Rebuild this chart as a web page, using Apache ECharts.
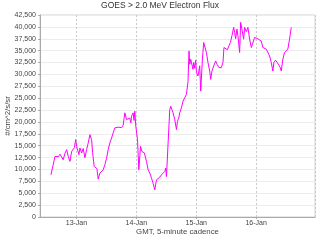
<!DOCTYPE html>
<html><head><meta charset="utf-8">
<script src="https://cdn.jsdelivr.net/npm/echarts@6/dist/echarts.min.js"></script>
<style>html,body{margin:0;padding:0;background:#fff}#c{width:320px;height:240px}</style>
</head><body><div id="c"></div>
<script>
var title = 'GOES > 2.0 MeV Electron Flux';
var yName = '#/cm^2/s/sr';
var xName = 'GMT, 5-minute cadence';
var axisStart = '2013-01-12 09:24';
var axisEnd = '2013-01-16 23:36';
var monthNames = ['Jan','Feb','Mar','Apr','May','Jun','Jul','Aug','Sep','Oct','Nov','Dec'];
var times = [
'2013-01-12 13:48','2013-01-12 14:36','2013-01-12 15:24','2013-01-12 16:05','2013-01-12 16:48','2013-01-12 17:24','2013-01-12 18:05','2013-01-12 18:43','2013-01-12 19:24','2013-01-12 20:05',
'2013-01-12 20:43','2013-01-12 21:24','2013-01-12 22:05','2013-01-12 22:43','2013-01-12 23:12','2013-01-12 23:41','2013-01-13 00:05','2013-01-13 00:36','2013-01-13 01:00','2013-01-13 01:24',
'2013-01-13 02:05','2013-01-13 02:43','2013-01-13 03:24','2013-01-13 04:05','2013-01-13 04:43','2013-01-13 05:24','2013-01-13 06:05','2013-01-13 06:29','2013-01-13 07:07','2013-01-13 07:41',
'2013-01-13 08:12','2013-01-13 08:43','2013-01-13 09:24','2013-01-13 10:05','2013-01-13 10:43','2013-01-13 11:24','2013-01-13 12:05','2013-01-13 12:43','2013-01-13 13:24','2013-01-13 14:05',
'2013-01-13 14:43','2013-01-13 15:24','2013-01-13 16:05','2013-01-13 16:43','2013-01-13 17:24','2013-01-13 18:05','2013-01-13 18:43','2013-01-13 19:24','2013-01-13 19:48','2013-01-13 20:05',
'2013-01-13 20:43','2013-01-13 21:24','2013-01-13 21:48','2013-01-13 22:05','2013-01-13 22:43','2013-01-13 23:05','2013-01-13 23:24','2013-01-13 23:48','2013-01-14 00:29','2013-01-14 01:00',
'2013-01-14 01:41','2013-01-14 02:12','2013-01-14 02:43','2013-01-14 03:12','2013-01-14 03:41','2013-01-14 04:05','2013-01-14 04:43','2013-01-14 05:24','2013-01-14 06:05','2013-01-14 06:43',
'2013-01-14 07:24','2013-01-14 08:05','2013-01-14 08:43','2013-01-14 09:24','2013-01-14 10:05','2013-01-14 10:43','2013-01-14 11:24','2013-01-14 11:48','2013-01-14 12:05','2013-01-14 12:43',
'2013-01-14 13:24','2013-01-14 13:48','2013-01-14 14:19','2013-01-14 14:43','2013-01-14 15:24','2013-01-14 16:05','2013-01-14 16:29','2013-01-14 17:00','2013-01-14 17:24','2013-01-14 18:05',
'2013-01-14 18:43','2013-01-14 19:24','2013-01-14 20:05','2013-01-14 20:43','2013-01-14 21:07','2013-01-14 21:24','2013-01-14 21:48','2013-01-14 22:43','2013-01-14 23:00','2013-01-14 23:24',
'2013-01-14 23:48','2013-01-15 00:05','2013-01-15 00:43','2013-01-15 01:24','2013-01-15 01:48','2013-01-15 02:29','2013-01-15 03:00','2013-01-15 03:24','2013-01-15 04:05','2013-01-15 04:43',
'2013-01-15 05:24','2013-01-15 05:48','2013-01-15 06:19','2013-01-15 07:00','2013-01-15 07:48','2013-01-15 08:19','2013-01-15 09:07','2013-01-15 10:05','2013-01-15 10:43','2013-01-15 11:07',
'2013-01-15 11:48','2013-01-15 12:29','2013-01-15 13:07','2013-01-15 13:41','2013-01-15 14:19','2013-01-15 15:00','2013-01-15 15:24','2013-01-15 15:48','2013-01-15 16:19','2013-01-15 16:43',
'2013-01-15 17:24','2013-01-15 17:48','2013-01-15 18:19','2013-01-15 19:00','2013-01-15 19:24','2013-01-15 20:05','2013-01-15 20:43','2013-01-15 21:24','2013-01-15 22:05','2013-01-15 22:43',
'2013-01-15 23:24','2013-01-16 00:05','2013-01-16 00:43','2013-01-16 01:24','2013-01-16 02:05','2013-01-16 02:43','2013-01-16 03:24','2013-01-16 04:05','2013-01-16 04:43','2013-01-16 05:24',
'2013-01-16 06:05','2013-01-16 06:43','2013-01-16 07:07','2013-01-16 07:48','2013-01-16 08:29','2013-01-16 09:07','2013-01-16 09:41','2013-01-16 10:05','2013-01-16 10:43','2013-01-16 11:24',
'2013-01-16 12:05','2013-01-16 12:43','2013-01-16 13:24','2013-01-16 14:05'
];
var flux = [
8880,10800,12750,12900,12700,13200,13100,12050,13400,14160,
12750,11700,13800,13450,14600,16280,14860,15200,13100,14520,
13460,14400,12470,14160,15580,17330,16280,13530,10630,10990,
10200,7970,9240,9100,9940,10990,12400,14160,15580,16640,
17690,18750,18500,18900,19090,18800,19300,21920,22050,20500,
20150,20800,19810,21200,21920,20300,22260,19090,16280,9940,
14860,13800,14100,13500,13800,11690,9940,9240,8180,7120,
5710,7820,8100,8390,8880,8900,9580,10290,8520,8880,
22620,23320,22500,21920,20500,18390,20150,20800,21920,22980,
24380,24800,25800,28500,34950,32130,33190,31080,32500,31300,
33000,30380,29660,31800,26490,33190,36720,37060,34610,32490,
30720,28960,30720,31770,32830,32130,31430,31430,32490,35660,
36000,35200,36000,36720,38120,39890,38830,37500,39530,38120,
34610,40950,39530,37420,39890,39000,39890,37420,35660,35300,
37780,38120,37500,37780,37000,35660,36000,35300,35660,33890,
32490,30720,32490,33000,32490,32700,31430,30720,33190,34610,
34400,35300,37420,39890
];
var yMin = 0, yMax = 42500, yStep = 2500;

function toMs(s){
  var p = s.split(/[- :]/).map(Number);
  return Date.UTC(p[0], p[1]-1, p[2], p[3], p[4]);
}
var chart = echarts.init(document.getElementById('c'), null, {renderer:'canvas', useUTC:true});
var pts = times.map(function(t,i){ return [toMs(t), flux[i]]; });
var fontFam = 'Liberation Sans, DejaVu Sans, sans-serif';
chart.setOption({
  animation:false,
  useUTC:true,
  backgroundColor:'#fff',
  title:{text:title,left:'center',top:0,padding:[1,0,0,0],textStyle:{fontSize:8.5,fontWeight:'normal',color:'#333',fontFamily:fontFam}},
  grid:{left:40,right:5,top:15,bottom:23,show:true,borderColor:'#d0d0d0',borderWidth:1,containLabel:false,outerBoundsMode:'none'},
  xAxis:{type:'time',min:toMs(axisStart),max:toMs(axisEnd),minInterval:86400000,maxInterval:86400000,
    name:xName,nameLocation:'middle',nameGap:11,nameMoveOverlap:false,nameTextStyle:{fontSize:7.8,color:'#444',fontFamily:fontFam},
    axisLine:{lineStyle:{color:'#aaa'}},axisTick:{show:true,length:2,lineStyle:{color:'#aaa'}},
    axisLabel:{fontSize:7,color:'#444',margin:3,fontFamily:fontFam,showMinLabel:false,showMaxLabel:false,
      formatter:function(v){var d=new Date(v);return d.getUTCDate()+'-'+monthNames[d.getUTCMonth()];}},
    splitLine:{show:true,lineStyle:{color:'#c8c8c8',type:[2,2],width:1}}},
  yAxis:{type:'value',min:yMin,max:yMax,interval:yStep,
    name:yName,nameLocation:'middle',nameGap:28,nameMoveOverlap:false,nameTextStyle:{fontSize:7.8,color:'#444',fontFamily:fontFam},
    axisLine:{show:true,lineStyle:{color:'#aaa'}},axisTick:{show:true,length:2,lineStyle:{color:'#aaa'}},
    axisLabel:{fontSize:7,color:'#444',margin:4,fontFamily:fontFam},
    splitLine:{show:true,lineStyle:{color:'#ececec',width:1}}},
  series:[{type:'line',data:pts,showSymbol:false,symbol:'none',lineStyle:{color:'#ff00ff',width:1},itemStyle:{color:'#ff00ff'}}]
});
</script></body></html>
